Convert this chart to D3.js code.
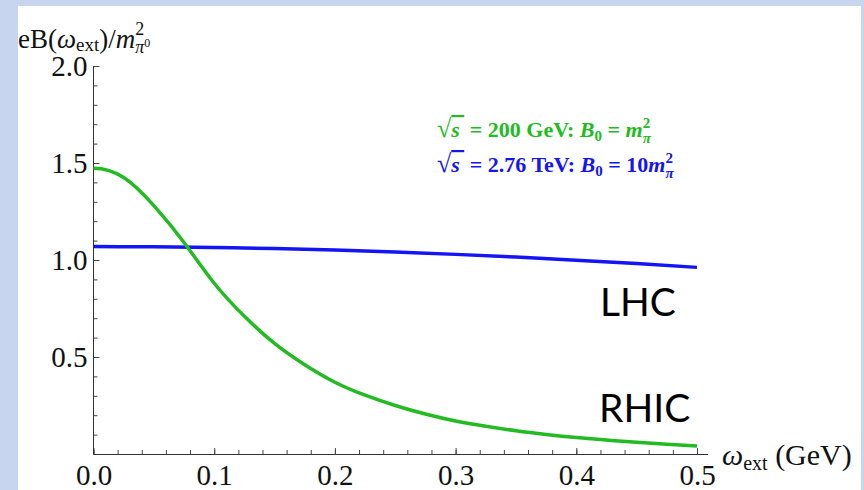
<!DOCTYPE html>
<html>
<head>
<meta charset="utf-8">
<script src="https://cdn.jsdelivr.net/npm/d3@7"></script>
<style>
  body { margin: 0; background: #c8d5ee; }
  svg { display: block; }
</style>
</head>
<body>
<div id="chart"></div>
<script>

// RHIC curve
const omegaRHIC = [0, 0.025, 0.05, 0.075, 0.1, 0.125, 0.15, 0.175, 0.2, 0.225, 0.25,
                   0.275, 0.3, 0.325, 0.35, 0.375, 0.4, 0.425, 0.45, 0.475, 0.5];
const bRHIC = [1.473, 1.425, 1.28, 1.09, 0.88, 0.71, 0.57, 0.46, 0.37, 0.303, 0.25,
               0.206, 0.17, 0.143, 0.12, 0.101, 0.085, 0.072, 0.06, 0.05, 0.041];

// LHC curve
const omegaLHC = [0, 0.05, 0.1, 0.15, 0.2, 0.25, 0.3, 0.35, 0.4, 0.45, 0.5];
const bLHC = [1.069, 1.068, 1.064, 1.059, 1.051, 1.041, 1.029, 1.015, 0.999, 0.982, 0.962];

const xMajor = [0, 0.1, 0.2, 0.3, 0.4, 0.5];
const yMajor = [0.5, 1.0, 1.5, 2.0];

const green = "#22bb22", blue = "#1414f5";
const serif = "'Liberation Serif', 'Times New Roman', serif";

let svg = d3.select("#chart").append("svg")
    .attr("width", 864)
    .attr("height", 490);

// slide background
svg.append("rect").attr("width", 864).attr("height", 490).attr("fill", "#c8d5ee");
svg.append("rect").attr("x", 18).attr("y", 6).attr("width", 843).attr("height", 484).attr("fill", "#fff");

let xScale = d3.scaleLinear().domain([0, 0.5]).range([93.5, 697]);
let yScale = d3.scaleLinear().domain([0, 2]).range([454, 66]);

let xMinor = d3.range(0, 0.5001, 0.02).map(d => +d.toFixed(2));
let yMinor = d3.range(0, 2.0001, 0.1).map(d => +d.toFixed(1));

//minor ticks first
svg.append("g")
    .attr("transform", "translate(0,454)")
    .call(d3.axisBottom(xScale).tickValues(xMinor).tickSize(-4).tickFormat(""))
    .call(g => g.select(".domain").remove());

svg.append("g")
    .attr("transform", "translate(93.5,0)")
    .call(d3.axisLeft(yScale).tickValues(yMinor).tickSize(-4).tickFormat(""))
    .call(g => g.select(".domain").remove());

//major ticks + labels
let xAxis = svg.append("g")
    .attr("transform", "translate(0,454)")
    .call(d3.axisBottom(xScale).tickValues(xMajor).tickSize(-6).tickPadding(10).tickFormat(d3.format(".1f")));
xAxis.select(".domain").remove();

let yAxis = svg.append("g")
    .attr("transform", "translate(93.5,0)")
    .call(d3.axisLeft(yScale).tickValues(yMajor).tickSize(-6).tickPadding(6).tickFormat(d3.format(".1f")));
yAxis.select(".domain").remove();

svg.selectAll(".tick text")
    .attr("font-family", serif)
    .attr("font-size", 29)
    .attr("fill", "#111");
svg.selectAll(".tick line").attr("stroke", "#444");

// axis lines
svg.append("line").attr("x1", 93.5).attr("x2", 708).attr("y1", 454.5).attr("y2", 454.5)
    .attr("stroke", "#333");
svg.append("line").attr("x1", 93.5).attr("x2", 93.5).attr("y1", 66).attr("y2", 454.5)
    .attr("stroke", "#333");

// clip so the curves start at the y axis
svg.append("clipPath").attr("id", "plotClip")
    .append("rect").attr("x", 93.5).attr("y", 0).attr("width", 620).attr("height", 490);

// curves: the field is even in omega, so mirror the points around 0
// to get a flat start, then clip at the axis
function mirrored(ws, vs)
{
    let pts = ws.map((w, i) => [w, vs[i]]);
    let left = pts.slice(1, 4).map(d => [-d[0], d[1]]).reverse();
    return left.concat(pts);
}

let line = d3.line()
    .x(d => xScale(d[0]))
    .y(d => yScale(d[1]))
    .curve(d3.curveNatural);

svg.append("path")
    .datum(mirrored(omegaLHC, bLHC))
    .attr("d", line)
    .attr("clip-path", "url(#plotClip)")
    .attr("fill", "none")
    .attr("stroke", blue)
    .attr("stroke-width", 3.5);

svg.append("path")
    .datum(mirrored(omegaRHIC, bRHIC))
    .attr("d", line)
    .attr("clip-path", "url(#plotClip)")
    .attr("fill", "none")
    .attr("stroke", green)
    .attr("stroke-width", 3.5);

// y title
let yt = svg.append("text").attr("x", 18).attr("y", 48)
    .attr("font-family", serif).attr("font-size", 27).attr("fill", "#111");
yt.append("tspan").text("eB(");
yt.append("tspan").attr("font-style", "italic").text("ω");
yt.append("tspan").attr("font-size", 19).attr("dy", 3).text("ext");
yt.append("tspan").attr("dy", -3).text(")/");
yt.append("tspan").attr("font-style", "italic").text("m");
yt.append("tspan").attr("font-size", 18).attr("dy", -13).text("2");
yt.append("tspan").attr("font-size", 18).attr("font-style", "italic").attr("dx", -9).attr("dy", 18).text("π");
yt.append("tspan").attr("font-size", 12).attr("dy", -6).text("0");

// x title
let xt = svg.append("text").attr("x", 722).attr("y", 465)
    .attr("font-family", serif).attr("font-size", 30).attr("fill", "#111");
xt.append("tspan").attr("font-style", "italic").text("ω");
xt.append("tspan").attr("font-size", 20).attr("dy", 5).text("ext");
xt.append("tspan").attr("dy", -5).text(" (GeV)");

// legend
function legendLine(y, color, energy, factor)
{
    let t = svg.append("text").attr("x", 437).attr("y", y)
        .attr("font-family", serif)
        .attr("font-size", 22).attr("font-weight", "bold").attr("fill", color);
    t.append("tspan").attr("font-size", 26).text("√");
    t.append("tspan").attr("font-style", "italic").attr("text-decoration", "overline").text("s\u2009");
    t.append("tspan").text(" = " + energy + ": ");
    t.append("tspan").attr("font-style", "italic").text("B");
    t.append("tspan").attr("font-size", 15).attr("dy", 4).text("0");
    t.append("tspan").attr("dy", -4).text(" = " + factor);
    t.append("tspan").attr("font-style", "italic").text("m");
    t.append("tspan").attr("font-size", 15).attr("dy", -9).text("2");
    t.append("tspan").attr("font-size", 15).attr("font-style", "italic").attr("dx", -7.5).attr("dy", 15).text("π");
}
legendLine(137, green, "200 GeV", "");
legendLine(172, blue, "2.76 TeV", "10");

// experiment labels
svg.append("text").attr("x", 600).attr("y", 316)
    .attr("font-family", "Lato, 'Open Sans', sans-serif").attr("font-size", 39).attr("fill", "#000").text("LHC");
svg.append("text").attr("x", 599).attr("y", 422)
    .attr("font-family", "Lato, 'Open Sans', sans-serif").attr("font-size", 39).attr("fill", "#000").text("RHIC");

</script>
</body>
</html>
